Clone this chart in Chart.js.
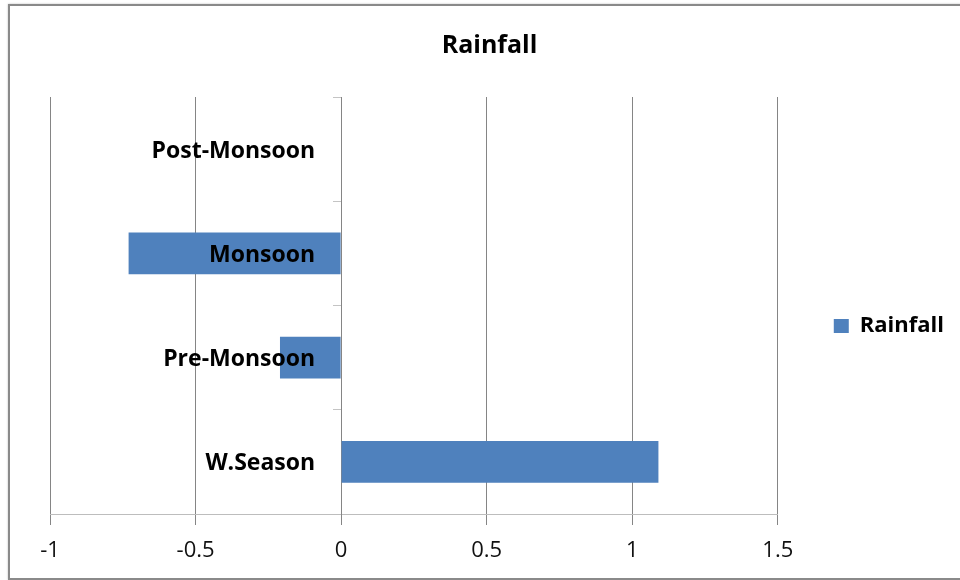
<!DOCTYPE html>
<html>
<head>
<meta charset="utf-8">
<title>Rainfall</title>
<script src="https://cdn.jsdelivr.net/npm/chart.js@4/dist/chart.umd.min.js"></script>
<style>
  html, body { margin: 0; padding: 0; background: #ffffff; overflow: hidden; width: 960px; height: 580px; }
  #frame {
    position: absolute; left: 8px; top: 4px;
    width: 990px; height: 572px;
    border: 2px solid #8a8a8a;
    box-shadow: 0 0 2px rgba(0,0,0,0.25);
  }
  #chart { position: absolute; left: 25px; top: 6px; }
</style>
</head>
<body>
<div id="frame"></div>
<canvas id="chart" width="935" height="640"></canvas>
<script>
// Seasons, listed top to bottom
const seasons = ['Post-Monsoon', 'Monsoon', 'Pre-Monsoon', 'W.Season'];
// Rainfall value for each season
const rainfall = [0, -0.73, -0.21, 1.09];
// Value axis range and step
const axisMin = -1;
const axisMax = 1.5;
const axisStep = 0.5;

const FONT = "'Open Sans', 'DejaVu Sans', sans-serif";

// Category names sit just left of the zero line, on top of the bars
const seasonLabels = {
  id: 'seasonLabels',
  afterDatasetsDraw(chart) {
    const { ctx, scales: { x, y } } = chart;
    const right = x.getPixelForValue(0) - 26;
    ctx.save();
    ctx.font = 'bold 23px ' + FONT;
    ctx.fillStyle = '#000000';
    ctx.textAlign = 'right';
    ctx.textBaseline = 'middle';
    chart.data.labels.forEach((name, i) => {
      ctx.fillText(name, right, y.getPixelForValue(i) + 2);
    });
    ctx.restore();
  }
};

new Chart(document.getElementById('chart'), {
  type: 'bar',
  data: {
    labels: seasons,
    datasets: [{
      label: 'Rainfall',
      data: rainfall,
      backgroundColor: '#4f81bd',
      borderWidth: 0,
      barPercentage: 0.4,
      categoryPercentage: 1.0
    }]
  },
  plugins: [seasonLabels],
  options: {
    indexAxis: 'y',
    responsive: false,
    animation: false,
    layout: { padding: { left: 0, right: 6, top: 0, bottom: 0 } },
    plugins: {
      title: {
        display: true,
        text: 'Rainfall',
        color: '#000000',
        font: { family: FONT, size: 25, weight: 'bold' },
        padding: { top: 25, bottom: 36 }
      },
      legend: {
        position: 'right',
        labels: {
          color: '#000000',
          font: { family: FONT, size: 22, weight: 'bold' },
          boxWidth: 15,
          boxHeight: 14,
          padding: 56
        }
      },
      tooltip: { enabled: false }
    },
    scales: {
      x: {
        min: axisMin,
        max: axisMax,
        ticks: {
          stepSize: axisStep,
          color: '#111111',
          padding: 13,
          font: { family: FONT, size: 22 },
          callback: (v) => String(v)
        },
        grid: { color: '#858585', lineWidth: 1, tickLength: 11 },
        border: { color: '#bdbdbd', width: 1 },
        afterFit: (scale) => {
          scale.height = 132;
          scale.paddingLeft = 25;
        }
      },
      y: {
        position: { x: 0 },
        ticks: { display: false },
        grid: { drawOnChartArea: false, color: '#c4c4c4', tickLength: 8, offset: true },
        border: { color: '#858585', width: 1 }
      }
    }
  }
});
</script>
</body>
</html>
